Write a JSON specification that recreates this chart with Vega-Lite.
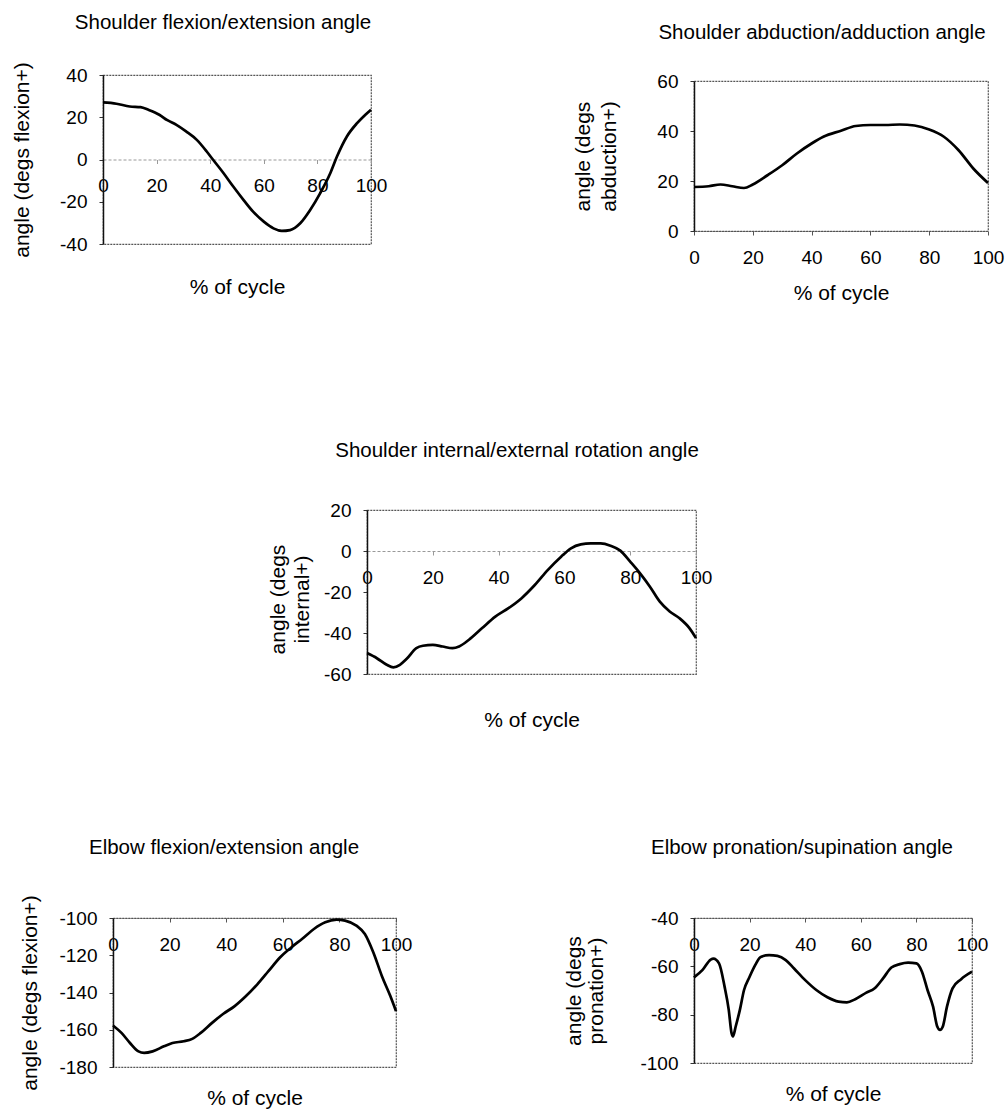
{
  "$schema": "https://vega.github.io/schema/vega-lite/v6.json",
  "padding": 0,
  "background": "white",
  "config": {
    "font": "Liberation Sans",
    "view": {"stroke": "#555", "strokeWidth": 1.2, "strokeDash": [2, 1]},
    "title": {"font": "Liberation Sans", "fontSize": 20.5, "fontWeight": "normal", "color": "black", "frame": "group", "anchor": "middle", "baseline": "bottom"},
    "axis": {"labelFont": "Liberation Sans", "labelFontSize": 19, "labelColor": "black", "titleFont": "Liberation Sans", "titleFontSize": 21, "titleFontWeight": "normal", "titleColor": "black", "grid": false, "tickColor": "#333", "tickSize": 4, "domainColor": "#111", "domainWidth": 1.5, "labelExpr": "toString(datum.value)"},
    "axisX": {"labelFlush": false, "labelOverlap": false, "labelBaseline": "middle", "labelPadding": 22, "titleBaseline": "middle", "domainColor": "#999", "domainWidth": 1, "domainDash": [3, 2], "tickColor": "#999"},
    "axisY": {"labelPadding": 12, "titleBaseline": "middle", "titleLineHeight": 24, "labelOverlap": false}
  },
  "datasets": {
    "sfe": [
      {"pct": 0, "angle": 27.0}, {"pct": 5, "angle": 26.4}, {"pct": 10, "angle": 25.1}, {"pct": 14, "angle": 24.8},
      {"pct": 17, "angle": 23.5}, {"pct": 21, "angle": 21.2}, {"pct": 24, "angle": 18.6}, {"pct": 27.4, "angle": 16.4},
      {"pct": 31, "angle": 13.3}, {"pct": 35, "angle": 9.3}, {"pct": 38.7, "angle": 3.8}, {"pct": 41, "angle": 0},
      {"pct": 45, "angle": -6.5}, {"pct": 48.6, "angle": -12.8}, {"pct": 52.4, "angle": -19.1}, {"pct": 56, "angle": -24.7},
      {"pct": 60, "angle": -29.4}, {"pct": 63.6, "angle": -32.6}, {"pct": 66.7, "angle": -33.8}, {"pct": 69.8, "angle": -33.4},
      {"pct": 73.6, "angle": -30.2}, {"pct": 77.3, "angle": -23.9}, {"pct": 81, "angle": -16.0}, {"pct": 84.8, "angle": -6.5},
      {"pct": 87.3, "angle": 1.4}, {"pct": 91, "angle": 10.9}, {"pct": 94.8, "angle": 17.2}, {"pct": 97.9, "angle": 21.2},
      {"pct": 100, "angle": 23.6}
    ],
    "saa": [
      {"pct": 0, "angle": 17.6}, {"pct": 5, "angle": 17.9}, {"pct": 9, "angle": 18.6}, {"pct": 13, "angle": 17.9},
      {"pct": 17, "angle": 17.2}, {"pct": 20, "angle": 18.6}, {"pct": 25, "angle": 22.3}, {"pct": 30, "angle": 26.3},
      {"pct": 35, "angle": 31.0}, {"pct": 40, "angle": 35.0}, {"pct": 44, "angle": 37.7}, {"pct": 50, "angle": 40.1},
      {"pct": 55, "angle": 42.0}, {"pct": 60, "angle": 42.4}, {"pct": 65, "angle": 42.4}, {"pct": 70, "angle": 42.6},
      {"pct": 75, "angle": 42.2}, {"pct": 80, "angle": 40.6}, {"pct": 85, "angle": 37.7}, {"pct": 90, "angle": 32.3},
      {"pct": 95, "angle": 25.0}, {"pct": 100, "angle": 19.2}
    ],
    "sie": [
      {"pct": 0, "angle": -49.8}, {"pct": 3, "angle": -52.3}, {"pct": 6, "angle": -55.5}, {"pct": 8, "angle": -56.8},
      {"pct": 10, "angle": -55.5}, {"pct": 12, "angle": -52.7}, {"pct": 15, "angle": -47.4}, {"pct": 17, "angle": -46.2},
      {"pct": 20, "angle": -45.8}, {"pct": 23, "angle": -46.6}, {"pct": 26, "angle": -47.4}, {"pct": 28, "angle": -46.6},
      {"pct": 31, "angle": -43.3}, {"pct": 35, "angle": -37.6}, {"pct": 39, "angle": -32.0}, {"pct": 43, "angle": -27.9},
      {"pct": 47, "angle": -23.0}, {"pct": 51, "angle": -16.6}, {"pct": 55, "angle": -9.2}, {"pct": 59, "angle": -2.8},
      {"pct": 62, "angle": 1.3}, {"pct": 65, "angle": 3.2}, {"pct": 68, "angle": 3.7}, {"pct": 71, "angle": 3.7},
      {"pct": 74, "angle": 2.6}, {"pct": 77, "angle": 0.2}, {"pct": 80, "angle": -5.2}, {"pct": 83, "angle": -10.9},
      {"pct": 86, "angle": -17.4}, {"pct": 89, "angle": -24.7}, {"pct": 92, "angle": -29.5}, {"pct": 95, "angle": -32.8},
      {"pct": 98, "angle": -37.6}, {"pct": 100, "angle": -42.5}
    ],
    "efe": [
      {"pct": 0, "angle": -157.7}, {"pct": 3, "angle": -161.7}, {"pct": 6, "angle": -167.1}, {"pct": 9, "angle": -171.6},
      {"pct": 11, "angle": -172.4}, {"pct": 14, "angle": -171.6}, {"pct": 18, "angle": -168.9}, {"pct": 21, "angle": -167.1},
      {"pct": 25, "angle": -166.2}, {"pct": 28, "angle": -164.9}, {"pct": 31, "angle": -161.7}, {"pct": 35, "angle": -156.3},
      {"pct": 39, "angle": -151.4}, {"pct": 43, "angle": -147.3}, {"pct": 47, "angle": -141.9}, {"pct": 51, "angle": -135.6},
      {"pct": 55, "angle": -128.4}, {"pct": 59, "angle": -121.2}, {"pct": 63, "angle": -115.8}, {"pct": 67, "angle": -111.0},
      {"pct": 71, "angle": -105.9}, {"pct": 75, "angle": -102.3}, {"pct": 79, "angle": -100.9}, {"pct": 82, "angle": -101.4},
      {"pct": 86, "angle": -104.1}, {"pct": 89, "angle": -108.6}, {"pct": 92, "angle": -118.5}, {"pct": 95, "angle": -131.1},
      {"pct": 98, "angle": -141.9}, {"pct": 100, "angle": -150.0}
    ],
    "eps": [
      {"pct": 0, "angle": -64.6}, {"pct": 3, "angle": -61.6}, {"pct": 6, "angle": -57.2}, {"pct": 7, "angle": -56.8},
      {"pct": 9, "angle": -58.8}, {"pct": 11, "angle": -68.4}, {"pct": 12.5, "angle": -78.0}, {"pct": 13.5, "angle": -87.6},
      {"pct": 14, "angle": -89.0}, {"pct": 15, "angle": -84.9}, {"pct": 16.5, "angle": -78.0}, {"pct": 18, "angle": -69.8},
      {"pct": 20, "angle": -64.3}, {"pct": 22, "angle": -59.5}, {"pct": 24, "angle": -56.1}, {"pct": 27, "angle": -55.4},
      {"pct": 30, "angle": -55.7}, {"pct": 33, "angle": -57.4}, {"pct": 36, "angle": -60.9}, {"pct": 40, "angle": -65.7},
      {"pct": 44, "angle": -69.8}, {"pct": 48, "angle": -72.8}, {"pct": 52, "angle": -74.6}, {"pct": 55, "angle": -74.9},
      {"pct": 58, "angle": -73.6}, {"pct": 62, "angle": -70.9}, {"pct": 65, "angle": -69.1}, {"pct": 68, "angle": -65.0},
      {"pct": 71, "angle": -60.5}, {"pct": 74, "angle": -59.1}, {"pct": 77, "angle": -58.5}, {"pct": 80, "angle": -58.8},
      {"pct": 82, "angle": -62.2}, {"pct": 84, "angle": -69.8}, {"pct": 86, "angle": -76.7}, {"pct": 87.5, "angle": -84.9},
      {"pct": 88.5, "angle": -86.3}, {"pct": 89.5, "angle": -84.9}, {"pct": 91, "angle": -76.7}, {"pct": 93, "angle": -69.1},
      {"pct": 96, "angle": -65.4}, {"pct": 100, "angle": -62.2}
    ]
  },
  "spacing": 0,
  "bounds": "flush",
  "vconcat": [
    {"width": 1, "height": 75, "data": {"values": []}, "mark": "point", "encoding": {}, "view": {"stroke": null}},
    {
      "spacing": 0, "bounds": "flush",
      "hconcat": [
        {"width": 103, "height": 1, "data": {"values": []}, "mark": "point", "encoding": {}, "view": {"stroke": null}},
        {
          "width": 268, "height": 169,
          "data": {"name": "sfe"},
          "title": {"text": "Shoulder flexion/extension angle", "dx": -14, "offset": 28},
          "mark": {"type": "line", "color": "black", "strokeWidth": 2.7, "interpolate": "monotone"},
          "encoding": {
            "x": {"field": "pct", "type": "quantitative", "scale": {"domain": [0, 100], "nice": false},
                  "axis": {"values": [0, 20, 40, 60, 80, 100], "title": "% of cycle", "offset": -84.5, "titleY": 127.5}},
            "y": {"field": "angle", "type": "quantitative", "scale": {"domain": [-40, 40], "nice": false, "zero": false},
                  "axis": {"values": [-40, -20, 0, 20, 40], "title": "angle (degs flexion+)", "titleX": -81}}
          }
        },
        {"width": 323, "height": 1, "data": {"values": []}, "mark": "point", "encoding": {}, "view": {"stroke": null}},
        {
          "spacing": 0, "bounds": "flush",
          "vconcat": [
            {"width": 1, "height": 6, "data": {"values": []}, "mark": "point", "encoding": {}, "view": {"stroke": null}},
            {
              "width": 294, "height": 150,
              "data": {"name": "saa"},
              "title": {"text": "Shoulder abduction/adduction angle", "dx": -19, "offset": 29},
              "mark": {"type": "line", "color": "black", "strokeWidth": 2.7, "interpolate": "monotone"},
              "encoding": {
                "x": {"field": "pct", "type": "quantitative", "scale": {"domain": [0, 100], "nice": false},
                      "axis": {"values": [0, 20, 40, 60, 80, 100], "title": "% of cycle", "titleY": 62, "domainColor": "#555", "domainDash": [2, 1], "domainWidth": 1.2, "tickColor": "#555"}},
                "y": {"field": "angle", "type": "quantitative", "scale": {"domain": [0, 60], "nice": false, "zero": false},
                      "axis": {"values": [0, 20, 40, 60], "title": ["angle (degs", "abduction+)"], "titleX": -110.5, "titleLineHeight": 26}}
              }
            }
          ]
        }
      ]
    },
    {"width": 1, "height": 435, "data": {"values": []}, "mark": "point", "encoding": {}, "view": {"stroke": null}},
    {
      "spacing": 0, "bounds": "flush",
      "hconcat": [
        {"width": 367, "height": 1, "data": {"values": []}, "mark": "point", "encoding": {}, "view": {"stroke": null}},
        {
          "width": 329, "height": 164,
          "data": {"name": "sie"},
          "title": {"text": "Shoulder internal/external rotation angle", "dx": -14.5, "offset": 40},
          "mark": {"type": "line", "color": "black", "strokeWidth": 2.7, "interpolate": "monotone"},
          "encoding": {
            "x": {"field": "pct", "type": "quantitative", "scale": {"domain": [0, 100], "nice": false},
                  "axis": {"values": [0, 20, 40, 60, 80, 100], "title": "% of cycle", "offset": -123, "titleY": 169}},
            "y": {"field": "angle", "type": "quantitative", "scale": {"domain": [-60, 20], "nice": false, "zero": false},
                  "axis": {"values": [-60, -40, -20, 0, 20], "title": ["angle (degs", "internal+)"], "titleX": -89, "titleY": 89}}
          }
        }
      ]
    },
    {"width": 1, "height": 408, "data": {"values": []}, "mark": "point", "encoding": {}, "view": {"stroke": null}},
    {
      "spacing": 0, "bounds": "flush",
      "hconcat": [
        {"width": 113, "height": 1, "data": {"values": []}, "mark": "point", "encoding": {}, "view": {"stroke": null}},
        {
          "width": 283, "height": 149,
          "data": {"name": "efe"},
          "title": {"text": "Elbow flexion/extension angle", "dx": -30.5, "offset": 36},
          "mark": {"type": "line", "color": "black", "strokeWidth": 2.7, "interpolate": "monotone"},
          "encoding": {
            "x": {"field": "pct", "type": "quantitative", "scale": {"domain": [0, 100], "nice": false},
                  "axis": {"values": [0, 20, 40, 60, 80, 100], "title": "% of cycle", "offset": -149, "titleY": 180, "domainColor": "#555", "domainDash": [2, 1], "domainWidth": 1.2, "tickColor": "#555"}},
            "y": {"field": "angle", "type": "quantitative", "scale": {"domain": [-180, -100], "nice": false, "zero": false},
                  "axis": {"values": [-180, -160, -140, -120, -100], "title": "angle (degs flexion+)", "titleX": -83}}
          }
        },
        {"width": 298, "height": 1, "data": {"values": []}, "mark": "point", "encoding": {}, "view": {"stroke": null}},
        {
          "width": 278, "height": 145,
          "data": {"name": "eps"},
          "title": {"text": "Elbow pronation/supination angle", "dx": -31, "offset": 51},
          "mark": {"type": "line", "color": "black", "strokeWidth": 2.7, "interpolate": "monotone"},
          "encoding": {
            "x": {"field": "pct", "type": "quantitative", "scale": {"domain": [0, 100], "nice": false},
                  "axis": {"values": [0, 20, 40, 60, 80, 100], "title": "% of cycle", "offset": -145, "titleY": 176, "domainColor": "#555", "domainDash": [2, 1], "domainWidth": 1.2, "tickColor": "#555"}},
            "y": {"field": "angle", "type": "quantitative", "scale": {"domain": [-100, -40], "nice": false, "zero": false},
                  "axis": {"values": [-100, -80, -60, -40], "title": ["angle (degs", "pronation+)"], "titleX": -120, "titleLineHeight": 22}}
          }
        }
      ]
    }
  ]
}
